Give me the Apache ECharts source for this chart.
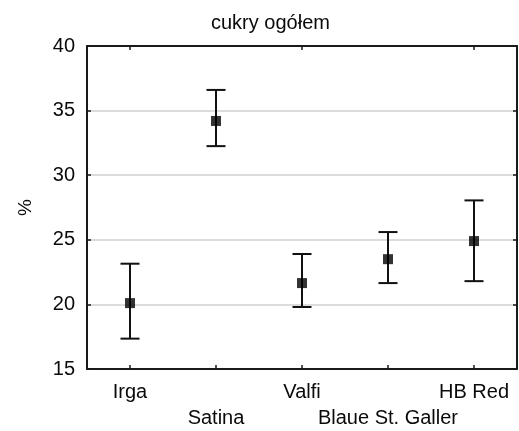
<!DOCTYPE html>
<html>
<head>
<meta charset="utf-8">
<script src="https://cdn.jsdelivr.net/npm/echarts@6/dist/echarts.min.js"></script>
<style>html,body{margin:0;padding:0;background:#fff}#c{width:519px;height:431px}</style>
</head>
<body>
<div id="c"></div>
<script>
const categories = ['Irga', 'Satina', 'Valfi', 'Blaue St. Galler', 'HB Red'];
const means = [20.1, 34.2, 21.65, 23.5, 24.9];
const lower = [17.35, 32.25, 19.8, 21.65, 21.8];
const upper = [23.15, 36.6, 23.9, 25.6, 28.05];
const yTicks = [15, 20, 25, 30, 35, 40];

const FONT = 'Liberation Sans, Arial, sans-serif';
const TXT = '#0a0a0a';
const chart = echarts.init(document.getElementById('c'), null, {renderer: 'canvas'});
const errData = categories.map((c, i) => [i, lower[i], upper[i]]);
const meanData = categories.map((c, i) => [i, means[i]]);

chart.setOption({
  animation: false,
  backgroundColor: '#fff',
  title: {
    text: 'cukry ogółem', left: 206, top: 8,
    textStyle: {fontFamily: FONT, fontSize: 20, fontWeight: 'normal', color: TXT}
  },
  grid: {left: 87, right: 2, top: 46, bottom: 59},
  xAxis: [{
    type: 'category', data: categories, position: 'bottom',
    axisLine: {lineStyle: {color: '#1a1a1a', width: 2}},
    axisTick: {show: true, inside: true, alignWithLabel: true, length: 4, lineStyle: {color: '#1a1a1a', width: 1.5}},
    axisLabel: {
      fontFamily: FONT, fontSize: 20, color: TXT, margin: 10, lineHeight: 26, interval: 0,
      formatter: (v, i) => (i % 2 ? '\n' + v : v)
    },
    splitLine: {show: false}
  }, {
    type: 'category', data: categories, position: 'top',
    axisLine: {lineStyle: {color: '#1a1a1a', width: 2}},
    axisTick: {show: true, inside: true, alignWithLabel: true, length: 4, lineStyle: {color: '#1a1a1a', width: 1.5}},
    axisLabel: {show: false}
  }],
  yAxis: [{
    type: 'value', min: yTicks[0], max: yTicks[yTicks.length - 1], interval: 5,
    name: '%', nameLocation: 'middle', nameGap: 52, nameRotate: 90,
    nameTextStyle: {fontFamily: FONT, fontSize: 19, color: TXT},
    axisLine: {show: true, lineStyle: {color: '#1a1a1a', width: 2}},
    axisTick: {show: true, inside: true, length: 4, lineStyle: {color: '#1a1a1a', width: 1.5}},
    axisLabel: {fontFamily: FONT, fontSize: 20, color: TXT, margin: 12},
    splitLine: {show: true, lineStyle: {color: '#dcdcdc', width: 2}}
  }, {
    type: 'value', min: yTicks[0], max: yTicks[yTicks.length - 1], interval: 5, position: 'right',
    axisLine: {show: true, lineStyle: {color: '#1a1a1a', width: 2}},
    axisTick: {show: true, inside: true, length: 4, lineStyle: {color: '#1a1a1a', width: 1.5}},
    axisLabel: {show: false},
    splitLine: {show: false}
  }],
  series: [{
    type: 'custom',
    data: errData,
    z: 3,
    renderItem: function (params, api) {
      const x = api.value(0);
      const lo = api.coord([x, api.value(1)]);
      const hi = api.coord([x, api.value(2)]);
      const hw = 9.5;
      const st = {stroke: '#111', lineWidth: 2};
      return {
        type: 'group',
        children: [
          {type: 'line', shape: {x1: lo[0], y1: lo[1], x2: hi[0], y2: hi[1]}, style: st},
          {type: 'line', shape: {x1: lo[0] - hw, y1: lo[1], x2: lo[0] + hw, y2: lo[1]}, style: st},
          {type: 'line', shape: {x1: hi[0] - hw, y1: hi[1], x2: hi[0] + hw, y2: hi[1]}, style: st}
        ]
      };
    }
  }, {
    type: 'scatter',
    data: meanData,
    symbol: 'rect', symbolSize: 10, z: 4,
    itemStyle: {color: '#000'}
  }]
});
</script>
</body>
</html>
